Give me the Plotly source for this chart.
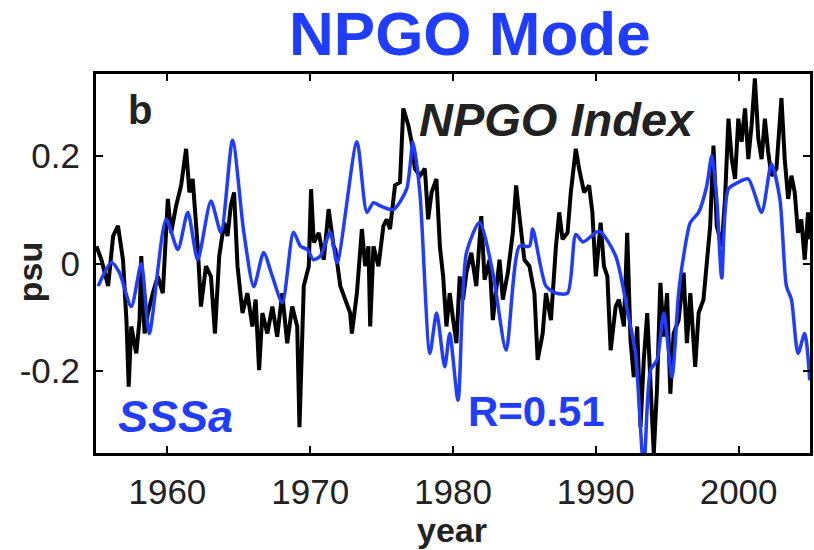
import plotly.graph_objects as go

# NPGO index (black)
npgo_years = [1955.03, 1955.38, 1955.85, 1956.2, 1956.54, 1956.89, 1957.13, 1957.29, 1957.47, 1957.82,
              1958.05, 1958.17, 1958.4, 1958.64, 1958.98, 1959.33, 1959.68, 1960.03, 1960.26, 1960.61,
              1960.96, 1961.31, 1961.54, 1961.77, 1962.12, 1962.35, 1962.7, 1963.05, 1963.33, 1963.63,
              1963.98, 1964.21, 1964.44, 1964.67, 1964.91, 1965.26, 1965.6, 1965.95, 1966.18, 1966.42,
              1966.65, 1967.0, 1967.35, 1967.69, 1968.04, 1968.39, 1968.74, 1969.09, 1969.25, 1969.55,
              1969.9, 1970.06, 1970.25, 1970.6, 1970.95, 1971.29, 1971.64, 1971.76, 1972.11, 1972.46,
              1972.8, 1972.92, 1973.27, 1973.62, 1973.85, 1974.08, 1974.2, 1974.43, 1974.78, 1975.13,
              1975.36, 1975.59, 1975.94, 1976.29, 1976.52, 1976.87, 1977.1, 1977.33, 1977.68, 1978.03,
              1978.26, 1978.5, 1978.84, 1979.08, 1979.31, 1979.54, 1979.77, 1980.01, 1980.24, 1980.47,
              1980.7, 1980.94, 1981.28, 1981.63, 1981.98, 1982.21, 1982.56, 1982.79, 1983.03, 1983.26,
              1983.49, 1983.84, 1984.19, 1984.42, 1984.65, 1985.0, 1985.35, 1985.7, 1985.93, 1986.28,
              1986.51, 1986.86, 1987.21, 1987.44, 1987.67, 1988.02, 1988.25, 1988.6, 1988.83, 1989.18,
              1989.53, 1989.76, 1990.0, 1990.34, 1990.57, 1990.81, 1991.04, 1991.39, 1991.62, 1991.97,
              1992.2, 1992.43, 1992.66, 1992.9, 1993.13, 1993.36, 1993.6, 1993.83, 1994.06, 1994.29,
              1994.52, 1994.76, 1994.99, 1995.22, 1995.45, 1995.8, 1996.15, 1996.38, 1996.62, 1996.96,
              1997.2, 1997.54, 1997.78, 1998.01, 1998.24, 1998.47, 1998.82, 1999.05, 1999.29, 1999.52,
              1999.75, 1999.98, 2000.21, 2000.45, 2000.68, 2000.91, 2001.14, 2001.38, 2001.61, 2001.84,
              2002.07, 2002.3, 2002.65, 2003.0, 2003.23, 2003.47, 2003.7, 2003.93, 2004.16, 2004.39,
              2004.63, 2004.86, 2005.0]
npgo_vals = [0.032, 0.007, -0.042, 0.051, 0.07, 0.007, -0.105, -0.229, -0.117, -0.167,
             -0.105, 0.014, -0.13, -0.092, -0.055, -0.024, -0.055, 0.12, 0.057, 0.107,
             0.145, 0.213, 0.132, 0.157, 0.032, -0.08, -0.005, -0.024, -0.13, 0.014,
             0.076, 0.051, 0.107, 0.132, -0.005, -0.092, -0.055, -0.117, -0.067, -0.198,
             -0.092, -0.13, -0.08, -0.136, -0.055, -0.148, -0.08, -0.117, -0.304, -0.042,
             -0.005, 0.138, 0.039, 0.057, 0.007, 0.101, 0.032, 0.026, -0.042, -0.067,
             -0.092, -0.13, -0.055, 0.064, -0.005, 0.032, -0.117, 0.032, -0.005, 0.07,
             0.082, 0.064, 0.145, 0.151, 0.288, 0.257, 0.226, 0.176, 0.163, 0.176,
             0.082, 0.132, 0.157, 0.032, -0.024, -0.117, -0.055, -0.105, -0.148, -0.024,
             -0.067, -0.017, 0.02, -0.042, 0.088, -0.03, 0.007, -0.105, -0.055, 0.007,
             -0.067, -0.017, 0.057, 0.145, 0.088, 0.007, -0.005, -0.055, -0.179, -0.13,
             -0.055, -0.105, 0.032, 0.095, 0.045, 0.057, 0.132, 0.213, 0.176, 0.132,
             0.145, 0.095, -0.024, 0.076, -0.005, -0.024, -0.161, -0.08, -0.067, -0.117,
             0.057, -0.142, -0.211, -0.117, -0.304, -0.179, -0.092, -0.242, -0.354, -0.229,
             -0.036, -0.136, -0.055, -0.242, -0.13, -0.105, -0.017, -0.148, -0.055, -0.192,
             -0.092, -0.067, -0.005, 0.07, 0.219, 0.07, 0.032, 0.12, 0.269, 0.194,
             0.157, 0.269, 0.226, 0.288, 0.194, 0.257, 0.344, 0.232, 0.194, 0.269,
             0.207, 0.163, 0.176, 0.307, 0.194, 0.12, 0.163, 0.132, 0.057, 0.082,
             0.007, 0.095, 0.045]

# SSS anomaly (blue)
sss_years = [1955.15, 1956.08, 1956.64, 1957.47, 1958.17, 1958.73, 1959.91, 1960.73, 1961.43, 1962.12,
             1963.05, 1963.75, 1964.56, 1965.35, 1966.05, 1966.74, 1967.35, 1968.05, 1968.83, 1969.32,
             1969.79, 1970.23, 1970.71, 1971.41, 1971.88, 1973.27, 1973.97, 1974.43, 1974.9, 1975.82,
             1976.75, 1977.2, 1977.68, 1978.38, 1978.85, 1979.42, 1979.77, 1980.35, 1980.94, 1981.86,
             1982.79, 1983.72, 1984.65, 1985.35, 1985.58, 1986.51, 1987.21, 1988.02, 1988.6, 1989.1,
             1990.23, 1991.39, 1992.2, 1992.78, 1993.36, 1993.83, 1994.29, 1994.76, 1995.33, 1995.8,
             1996.15, 1996.62, 1997.2, 1997.77, 1998.12, 1998.47, 1998.82, 1999.28, 1999.98, 2000.68,
             2001.61, 2002.3, 2002.89, 2003.35, 2003.7, 2004.16, 2004.63, 2004.98]
sss_vals = [-0.042, 0.002, -0.017, -0.08, 0.0, -0.13, 0.082, 0.026, 0.095, 0.007,
            0.116, 0.058, 0.229, 0.058, -0.043, 0.02, -0.024, -0.073, 0.058, 0.032,
            0.026, 0.007, 0.014, 0.058, 0.001, 0.226, 0.095, 0.113, 0.107, 0.1,
            0.138, 0.226, 0.132, -0.167, -0.092, -0.192, -0.13, -0.254, 0.02, 0.076,
            -0.017, -0.161, 0.032, 0.032, 0.064, -0.042, -0.055, -0.055, 0.054, 0.04,
            0.06, 0.014, -0.086, -0.167, -0.38, -0.198, -0.179, -0.092, -0.211, -0.055,
            0.014, 0.076, 0.095, 0.144, 0.2, 0.12, -0.027, 0.138, 0.151, 0.157,
            0.095, 0.185, 0.12, -0.042, -0.067, -0.167, -0.13, -0.217]

x_ticks = [1960, 1970, 1980, 1990, 2000]
y_ticks = [-0.2, 0, 0.2]
y_tick_text = ["-0.2", "0", "0.2"]

BLUE = "#1f3cff"
INK = "#222222"
FONT = "Liberation Sans, Arial, Helvetica, sans-serif"

fig = go.Figure()
fig.add_trace(go.Scatter(x=npgo_years, y=npgo_vals, mode="lines",
                         line=dict(color="black", width=4), name="NPGO Index"))
fig.add_trace(go.Scatter(x=sss_years, y=sss_vals, mode="lines",
                         line=dict(color=BLUE, width=3.5, shape="spline", smoothing=0.7), name="SSSa"))

fig.update_layout(
    width=814, height=550,
    margin=dict(l=96, r=1, t=74, b=97),
    plot_bgcolor="white", paper_bgcolor="white",
    showlegend=False,
    font=dict(family=FONT, color=INK, size=34),
    xaxis=dict(range=[1955, 2005], tickvals=x_ticks, ticks="inside", ticklen=7, tickwidth=2,
               tickcolor="black", showline=True, linecolor="black", linewidth=3, mirror="ticks",
               showgrid=False, zeroline=False, ticklabelstandoff=6,
               tickfont=dict(size=35, color=INK, family=FONT)),
    yaxis=dict(range=[-0.352, 0.352], tickvals=y_ticks, ticktext=y_tick_text, ticks="inside",
               ticklen=7, tickwidth=2, tickcolor="black", showline=True, linecolor="black",
               linewidth=3, mirror="ticks", showgrid=False, zeroline=False, ticklabelstandoff=6,
               tickfont=dict(size=35, color=INK, family=FONT)),
)

ann = [
    dict(text="<b>NPGO Mode</b>", xref="paper", yref="paper", x=0.524, y=1.108,
         font=dict(size=62, color=BLUE, family=FONT)),
    dict(text="<b>year</b>", xref="paper", yref="paper", x=0.498, y=-0.203,
         font=dict(size=34, color=INK, family=FONT)),
    dict(text="<b>psu</b>", xref="paper", yref="paper", x=-0.092, y=0.478, textangle=-90,
         font=dict(size=34, color=INK, family=FONT)),
    dict(text="<b>b</b>", x=1958.05, y=0.285, font=dict(size=40, color=INK, family=FONT)),
    dict(text="<b><i>NPGO Index</i></b>", x=1987.25, y=0.267, font=dict(size=47, color=INK, family=FONT)),
    dict(text="<b><i>SSSa</i></b>", x=1960.56, y=-0.284, font=dict(size=45, color=BLUE, family=FONT)),
    dict(text="<b>R=0.51</b>", x=1985.86, y=-0.275, font=dict(size=42, color=BLUE, family=FONT)),
]
for a in ann:
    a.setdefault("xref", "x")
    a.setdefault("yref", "y")
    a.update(showarrow=False, xanchor="center", yanchor="middle")
    fig.add_annotation(**a)

fig.write_html("out.html", config={"displayModeBar": False},
               post_script="document.body.style.margin='0';document.body.style.overflow='hidden';")
